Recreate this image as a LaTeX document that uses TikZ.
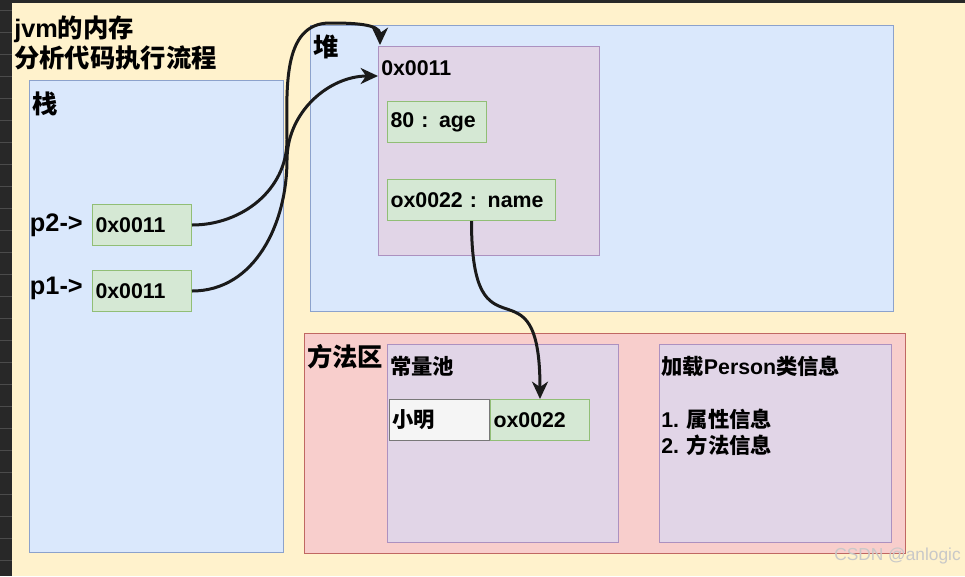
\documentclass[tikz,border=0pt]{standalone}
\usepackage{fontspec}
\setmainfont{Liberation Sans}
\newfontfamily\cjk{Noto Sans CJK SC}
\usepackage{tikz}
\usetikzlibrary{arrows.meta,positioning}
\definecolor{jvm@bg}{RGB}{255, 242, 204}
\definecolor{jvm@dark}{RGB}{40, 40, 40}
\definecolor{jvm@grid}{RGB}{75, 75, 75}
\definecolor{jvm@blue}{RGB}{218, 232, 252}
\definecolor{jvm@blueline}{RGB}{140, 162, 204}
\definecolor{jvm@purple}{RGB}{225, 213, 231}
\definecolor{jvm@purpleline}{RGB}{172, 145, 192}
\definecolor{jvm@red}{RGB}{248, 206, 204}
\definecolor{jvm@redline}{RGB}{192, 104, 98}
\definecolor{jvm@green}{RGB}{213, 232, 212}
\definecolor{jvm@greenline}{RGB}{145, 190, 118}
\definecolor{jvm@gray}{RGB}{245, 245, 245}
\definecolor{jvm@grayline}{RGB}{120, 120, 120}
\definecolor{jvm@ink}{RGB}{26, 26, 26}
\definecolor{jvm@mark}{RGB}{200, 200, 200}
\newcommand\headfont{\fontsize{19}{22.5}\selectfont\bfseries}
\newcommand\cellfont{\fontsize{16}{19.9}\selectfont\bfseries}

\begin{document}
\begin{tikzpicture}[x=0.75pt, y=-0.75pt,
  blk/.style       = {rectangle, line width=0.75pt, anchor=north west, inner sep=0pt},
  bluebox/.style   = {blk, draw=jvm@blueline, fill=jvm@blue},
  pinkbox/.style   = {blk, draw=jvm@redline, fill=jvm@red},
  purplebox/.style = {blk, draw=jvm@purpleline, fill=jvm@purple},
  cell/.style      = {blk, draw=jvm@greenline, fill=jvm@green, minimum height=30.75pt,
                      inner xsep=2.25pt, align=left, font=\cellfont},
  strcell/.style   = {cell, draw=jvm@grayline, fill=jvm@gray},
  head/.style      = {anchor=west, inner sep=0pt, align=left, font=\headfont},
  txt/.style       = {anchor=west, inner sep=0pt, align=left, font=\cellfont},
  ptr/.style       = {-{Stealth[length=13pt, width=12pt, inset=4pt]}, draw=jvm@ink,
                      line width=2.25pt},
]
  \useasboundingbox (0,0) rectangle (965,576);
  % canvas
  \fill[jvm@dark] (0,0) rectangle (965,576);
  \foreach \gy in {10,32,...,576} \draw[jvm@grid, line width=0.75pt] (0,\gy) -- (12,\gy);
  \fill[jvm@bg] (12,3) rectangle (965,576);

  \node[head] (title) at (14,42.5) {jvm{\cjk 的内存}\\{\cjk 分析代码执行流程}};

  % stack
  \node[bluebox, minimum width=190.5pt, minimum height=354pt] (stack) at (29,80) {};
  \node[head] (stacklbl) at ([shift={(3,23.5)}]stack.north west) {\cjk 栈};
  \node[cell, text width=69.75pt] (p2) at (92,204) {0x0011};
  \node[cell, text width=69.75pt] (p1) at (92,270) {0x0011};
  \node[head, left=6.75pt of p2] (p2lbl) {p2->};
  \node[head, left=6.75pt of p1, yshift=2pt] (p1lbl) {p1->};

  % heap
  \node[bluebox, minimum width=437.25pt, minimum height=214.5pt] (heap) at (310,25) {};
  \node[head] (heaplbl) at ([shift={(3,21.5)}]heap.north west) {\cjk 堆};
  \node[purplebox, minimum width=165.75pt, minimum height=156.75pt] (obj) at (378,46) {};
  \node[txt] (objlbl) at ([shift={(3,22)}]obj.north west) {0x0011};
  \node[cell, text width=69.75pt] (age) at (387,101) {80 : age};
  \node[cell, text width=121.5pt] (name) at (387,179) {ox0022 : name};

  % method area
  \node[pinkbox, minimum width=450.75pt, minimum height=165pt] (meth) at (304,333) {};
  \node[head] (methlbl) at ([shift={(3,24)}]meth.north west) {\cjk 方法区};
  \node[purplebox, minimum width=173.25pt, minimum height=148.5pt] (pool) at (387,344) {};
  \node[txt] (poollbl) at ([shift={(3,22)}]pool.north west) {\cjk 常量池};
  \node[strcell, text width=70.5pt] (xm) at (389,399) {\cjk 小明};
  \node[cell, text width=69.75pt, right=0pt of xm] (ox) {ox0022};
  \node[purplebox, minimum width=174pt, minimum height=148.5pt] (cls) at (659,344) {};
  \node[txt] (clstxt) at ([shift={(2,62)}]cls.north west)
    {{\cjk 加载}Person{\cjk 类信息}\\[19.9pt]1. {\cjk 属性信息}\\2. {\cjk 方法信息}};

  \node[anchor=east, inner sep=0pt, font=\fontsize{13}{15}\selectfont, text=jvm@mark]
    (mark) at (961,556) {CSDN @anlogic};

  % references
  \draw[ptr] (p2.east) to[out=0,in=-90] (287,140) to[out=90,in=180] (330,23)
                       to[out=0,in=90] ([shift={(2,-1)}]obj.north west);
  \draw[ptr] (p1.east) to[out=0,in=-90] (287,160) to[out=90,in=180] ([yshift=-22.5pt]obj.north west);
  \draw[ptr] (name.south) to[out=-90,in=90,looseness=2] (ox.north);
\end{tikzpicture}
\end{document}
